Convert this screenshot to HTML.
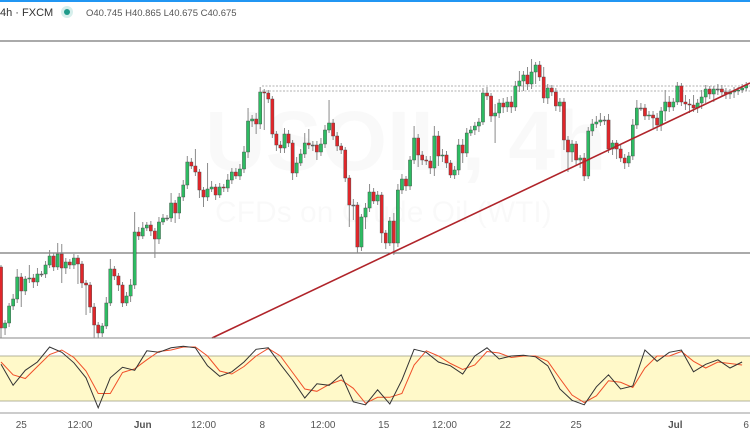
<!DOCTYPE html>
<html><head><meta charset="utf-8"><style>
html,body{margin:0;padding:0;background:#fff;width:750px;height:430px;overflow:hidden;font-family:"Liberation Sans",sans-serif}
</style></head><body>
<svg id="chart" width="750" height="430" xmlns="http://www.w3.org/2000/svg">
<rect x="0" y="0" width="750" height="2" fill="#2196f3"/>
<text x="0" y="16" font-size="11" fill="#333">4h · FXCM</text>
<circle cx="67" cy="12" r="6" fill="#d6efec"/>
<circle cx="67" cy="12" r="3" fill="#1e9b8a"/>
<text x="86" y="16" font-size="9.5" fill="#555">O40.745  H40.865  L40.675  C40.675</text>
<line x1="0" y1="41" x2="750" y2="41" stroke="#777" stroke-width="1.2"/>
<text x="205" y="170" font-size="84" font-weight="bold" fill="#000" opacity="0.018">USOIL, 4h</text>
<text x="215" y="222" font-size="30" fill="#000" opacity="0.02">CFDs on Crude Oil (WTI)</text>
<line x1="0" y1="253" x2="750" y2="253" stroke="#555" stroke-width="1"/>
<line x1="262" y1="86" x2="750" y2="86" stroke="#999" stroke-width="0.8" stroke-dasharray="2,1.5"/>
<line x1="262" y1="91" x2="750" y2="91" stroke="#999" stroke-width="0.8" stroke-dasharray="2,1.5"/>
<g id="candles"></g>
<line x1="212" y1="338" x2="750" y2="83" stroke="#b0242a" stroke-width="1.6"/>
<line x1="0" y1="338" x2="750" y2="338" stroke="#888" stroke-width="1"/>
<rect x="0" y="356" width="750" height="45" fill="#fff9c9"/>
<line x1="0" y1="356" x2="750" y2="356" stroke="#9a9a80" stroke-width="0.8"/>
<line x1="0" y1="401" x2="750" y2="401" stroke="#9a9a80" stroke-width="0.8"/>
<g id="stoch"></g>
<line x1="0" y1="413" x2="750" y2="413" stroke="#999" stroke-width="1"/>
<g id="xaxis" font-size="10" fill="#555" text-anchor="middle"></g>
</svg>
<script>
const close=[328,323,306,299,277,291,279,278,282,274,274,265,256,267,254,268,262,265,258,264,283,285,307,325,333,326,303,269,276,285,303,296,285,232,236,228,
225,231,239,222,218,218,203,213,197,185,162,166,172,190,197,189,187,195,187,188,180,172,176,169,152,121,119,124,92,93,
99,134,145,148,134,143,173,163,154,143,145,145,152,144,130,123,136,146,150,178,205,205,247,217,208,192,201,195,233,243,221,243,190,179,186,
160,138,155,160,161,168,136,156,155,163,175,170,145,153,133,130,126,122,93,96,116,113,103,107,102,107,86,81,75,84,72,65,77,98,88,92,106,102,140,152,144,160,158,
176,131,124,122,120,120,149,143,149,158,163,156,125,108,108,116,115,118,125,111,102,107,102,86,102,104,105,108,103,97,89,94,89,89,92,94,92,91,90,88,85];
const wickUp=[2,3,3,5,8,4,3,13,4,6,3,4,6,3,11,10,4,3,4,3,3,3,3,4,3,3,6,10,3,3,3,4,6,20,5,6,3,4,3,5,4,3,10,3,4,5,6,4,17,3,3,26,6,3,4,3,6,4,4,5,6,13,4,6,5,3,3,3,3,4,6,4,3,6,5,10,14,4,4,6,5,23,4,4,3,3,3,6,3,3,5,8,4,4,3,3,4,8,6,5,3,4,12,4,4,4,5,10,5,6,4,3,4,6,6,5,4,4,4,5,6,3,9,4,5,5,6,5,10,4,8,13,3,4,10,4,3,4,4,4,4,4,3,3,5,4,5,6,7,4,6,3,3,4,4,4,6,8,5,4,4,4,5,4,12,6,4,4,3,7,5,10,4,7,4,3,3,5,4,4,3,4,3,4,3];
const wickDn=[10,7,4,4,4,16,4,4,6,4,3,4,3,4,3,15,6,4,4,20,5,30,6,13,5,4,3,3,4,6,4,3,6,4,4,3,3,5,19,5,3,3,4,10,6,4,4,3,4,8,10,4,3,5,3,4,4,4,3,4,4,6,6,10,5,37,4,4,6,5,5,4,7,4,3,4,4,6,8,4,4,3,4,5,4,4,22,15,6,4,12,4,3,4,10,6,3,12,4,4,5,4,4,12,5,4,6,8,10,6,5,3,4,5,10,4,3,5,6,3,4,6,27,5,6,5,6,4,6,10,6,5,12,4,5,6,4,5,6,10,20,10,6,8,5,3,5,4,4,5,4,6,10,4,6,4,4,4,3,4,4,10,6,6,10,5,4,3,4,6,8,4,5,6,6,5,8,6,4,5,5,6,4,3,3];
const firstOpen=267;
const stochK=[69,41,61,72,92,85,71,51,11,51,65,61,87,85,91,93,91,67,53,59,72,89,91,69,48,24,43,41,55,19,15,35,16,48,89,85,72,67,56,80,91,76,80,81,79,67,36,21,15,39,55,36,40,88,73,85,88,59,69,75,64,72];
const stochD=[72,55,50,66,82,88,78,60,30,30,58,63,75,86,88,92,92,80,60,56,66,80,90,80,58,36,33,42,48,37,17,25,25,30,68,87,80,70,62,68,86,84,78,80,80,73,50,28,18,27,47,45,38,64,80,80,86,73,64,72,70,68];
const stochStep=3;
const timeLabels=["25","12:00","Jun","12:00","8","12:00","15","12:00","22","25","Jul","6"];
const timeLabelIdx=[5,19.5,35,50,64.5,79.5,94.5,109.5,124.5,142,166.5,184];

const NS="http://www.w3.org/2000/svg";
const SP=4.05;
const xScale=i=>1+i*SP;
const yScale=v=>41+(v-41)*(338-41)/(338-41);
const stY=v=>416-v*0.75;
function mk(tag,attrs,parent){const e=document.createElementNS(NS,tag);for(const k in attrs)e.setAttribute(k,attrs[k]);parent.appendChild(e);return e;}
const cg=document.getElementById('candles');
for(let i=0;i<close.length;i++){
  const o=i===0?firstOpen:close[i-1], c=close[i];
  const top=Math.min(o,c), bot=Math.max(o,c);
  const hi=top-wickUp[i], lo=bot+wickDn[i];
  const x=xScale(i);
  const w=mk('line',{x1:x,x2:x,y1:yScale(hi),y2:yScale(lo),stroke:'#8a8a8a','stroke-width':1},cg);
  
  
  const h=Math.max(1,yScale(bot)-yScale(top));
  const b=mk('rect',{x:x-1.6,y:yScale(top),width:3.2,height:h,fill:c<o?'#2dbb62':(c>o?'#e0262a':'#777'),stroke:'#444','stroke-width':0.4},cg);
  
  
}
const sg=document.getElementById('stoch');
function line(arr,color,name){
  const pts=arr.map((v,j)=>xScale(j*stochStep).toFixed(1)+','+stY(v).toFixed(1)).join(' ');
  const p=mk('polyline',{points:pts,fill:'none',stroke:color,'stroke-width':1},sg);
  
  
}
line(stochD,'#f0502a','stoch-d-line');
line(stochK,'#333','stoch-k-line');
const xg=document.getElementById('xaxis');
timeLabels.forEach((t,k)=>{
  const e=mk('text',{x:xScale(timeLabelIdx[k]),y:428},xg);
  if(t==='Jun'||t==='Jul')e.setAttribute('font-weight','bold');
  e.textContent=t;
  
  
});
</script>
</body></html>
